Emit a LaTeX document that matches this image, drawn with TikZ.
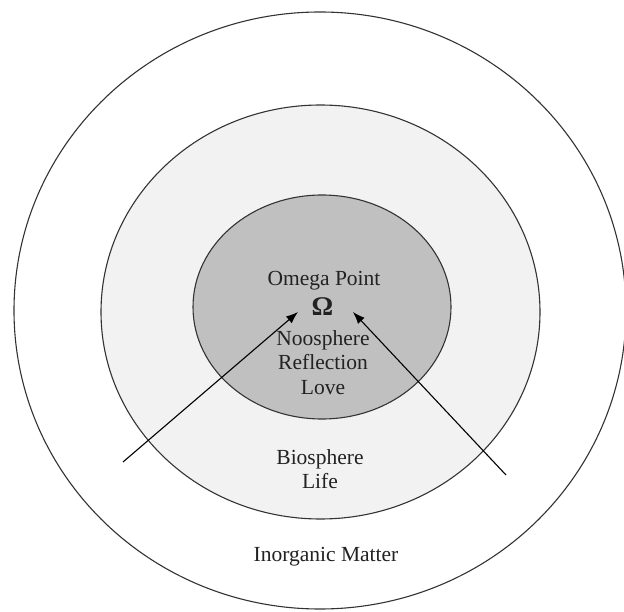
\documentclass[tikz,border=0pt]{standalone}
\usepackage{fontspec}
\setmainfont{Liberation Serif}
\usetikzlibrary{arrows.meta}
\definecolor{ringline}{HTML}{333333}
\definecolor{innerfill}{HTML}{C0C0C0}
\definecolor{midfill}{HTML}{F2F2F2}
\definecolor{txt}{HTML}{222222}
\begin{document}
\begin{tikzpicture}[x=1pt,y=-1pt,
  ring/.style={draw=ringline,line width=1.1pt},
  lbl/.style={anchor=base,inner sep=0pt,text=txt,font=\fontsize{21.5}{24}\selectfont},
  arr/.style={draw=black,line width=1.1pt,-{Latex[length=12pt,width=9pt]}}]
\useasboundingbox (0,0) rectangle (624,612);
\clip (0,0) rectangle (624,612);
\fill[white] (0,0) rectangle (624,612);
\draw[ring,fill=white] (320,310.5) ellipse [x radius=306,y radius=298.5];
\draw[ring,fill=midfill] (320.5,312) ellipse [x radius=219.5,y radius=207];
\draw[ring,fill=innerfill] (322,307) ellipse [x radius=129,y radius=112];
\node[lbl] (omega) at (324,286) {Omega Point};
\node[lbl,font=\fontsize{27}{30}\selectfont\bfseries] (om) at (322.5,316) {Ω};
\node[lbl] (noo) at (323,346) {Noosphere};
\node[lbl] (refl) at (323,370) {Reflection};
\node[lbl] (love) at (323,394) {Love};
\node[lbl] (bio) at (320,464) {Biosphere};
\node[lbl] (life) at (320,488) {Life};
\node[lbl] (inorg) at (326,561) {Inorganic Matter};
\coordinate (lt) at (123,462);
\coordinate (lh) at (298,312);
\coordinate (rt) at (506,475);
\coordinate (rh) at (353,312);
\draw[arr] (lt) -- (lh);
\draw[arr] (rt) -- (rh);
\end{tikzpicture}
\end{document}
